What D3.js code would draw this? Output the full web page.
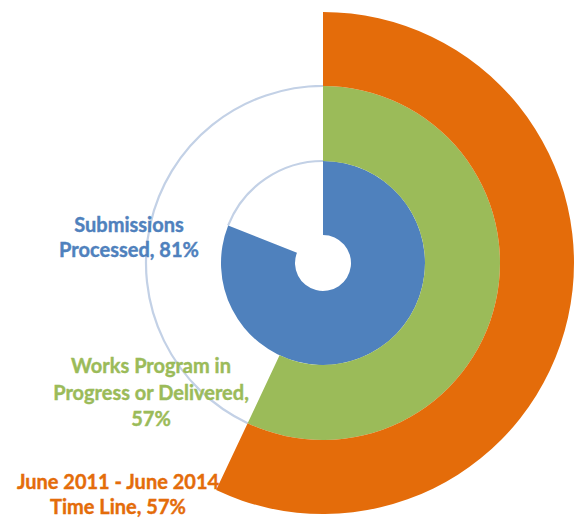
<!DOCTYPE html>
<html>
<head>
<meta charset="utf-8">
<script src="https://cdn.jsdelivr.net/npm/d3@7"></script>
<style>
  html, body { margin: 0; padding: 0; background: #ffffff; }
  svg { display: block; }
</style>
</head>
<body>
<svg id="chart" width="584" height="519"></svg>
<script>
// ---- data ----
const categories = ["Submissions Processed", "Works Program in Progress or Delivered", "June 2011 - June 2014 Time Line"];
const values = [81, 57, 57];
const labelLines = [
  ["Submissions", "Processed, 81%"],
  ["Works Program in", "Progress or Delivered,", "57%"],
  ["June 2011 - June 2014", "Time Line, 57%"]
];

// ---- styling / layout ----
const colors = ["#4F81BD", "#9BBB59", "#E46C0A"];
const showTrack = [true, true, false];
const trackColor = "#C3D1E6";
const cx = 323, cy = 263;
const ringBounds = [28, 102, 177, 251];
const labelPos = [
  { x: 129, y: 232, dy: 25 },
  { x: 151, y: 373, dy: 26.5 },
  { x: 118, y: 489, dy: 25 }
];

const svg = d3.select("#chart");
const g = svg.append("g").attr("transform", `translate(${cx},${cy})`);

const angle = d3.scaleLinear().domain([0, 100]).range([0, 2 * Math.PI]);

// remaining-track outlines (outer edge only)
categories.forEach((c, i) => {
  if (!showTrack[i]) return;
  const r = ringBounds[i + 1];
  const outline = d3.arc()
    .innerRadius(r).outerRadius(r)
    .startAngle(angle(values[i])).endAngle(angle(100));
  g.append("path")
    .attr("d", outline())
    .attr("fill", "none")
    .attr("stroke", trackColor)
    .attr("stroke-width", 2.2);
});

// value arcs
categories.forEach((c, i) => {
  const arc = d3.arc()
    .innerRadius(ringBounds[i]).outerRadius(ringBounds[i + 1])
    .startAngle(angle(0)).endAngle(angle(values[i]));
  g.append("path")
    .attr("d", arc())
    .attr("fill", colors[i]);
});

// labels
labelLines.forEach((lines, i) => {
  const t = svg.append("text")
    .attr("text-anchor", "middle")
    .attr("font-family", "Lato, 'Open Sans', sans-serif")
    .attr("font-weight", "bold")
    .attr("font-size", 20)
    .attr("fill", colors[i])
    .attr("stroke", colors[i])
    .attr("stroke-width", 0.4);
  lines.forEach((ln, k) => {
    t.append("tspan")
      .attr("x", labelPos[i].x)
      .attr("y", labelPos[i].y + k * labelPos[i].dy)
      .text(ln);
  });
});
</script>
</body>
</html>
